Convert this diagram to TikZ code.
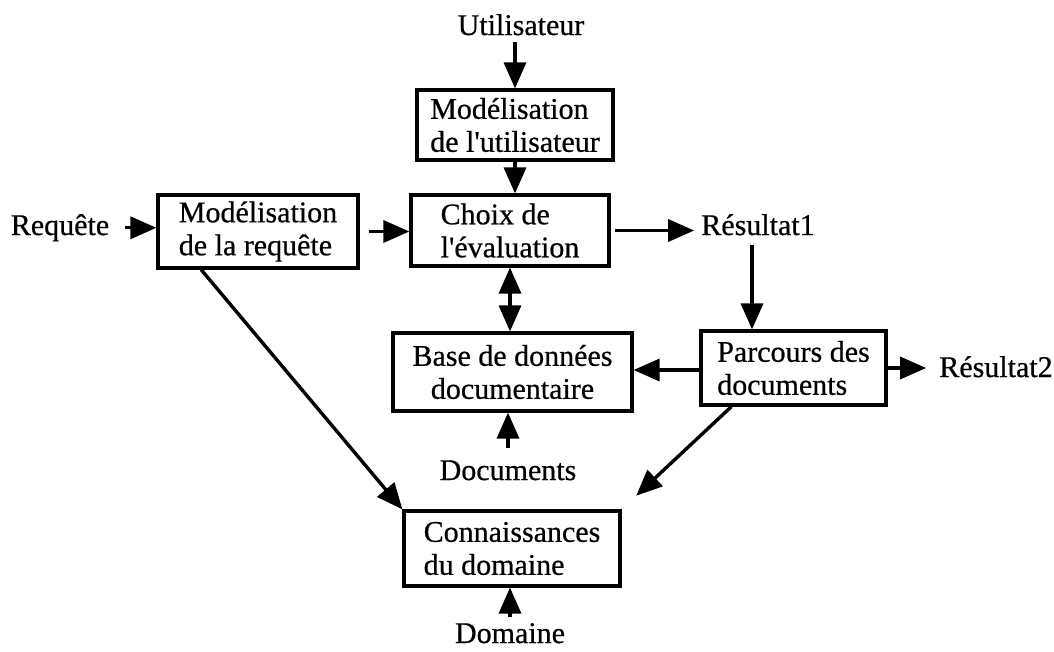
\documentclass[tikz,border=0pt]{standalone}
\usepackage{fontspec}
\setmainfont{Liberation Serif}[Ligatures=TeXOff, FakeBold=0.6]
\usetikzlibrary{arrows.meta,calc}

\begin{document}
\begin{tikzpicture}[x=1pt,y=-1pt,
  txt/.style={font=\fontsize{30}{33}\selectfont},
  box/.style={txt, draw, line width=3.2pt, inner sep=0pt, align=left},
  lbl/.style={txt, inner sep=0pt, anchor=base},
  tip/.tip={Triangle[length=26pt,width=22pt]},
  arr/.style={line width=3.4pt, -tip},
  darr/.style={line width=3.4pt, tip-tip},
]
\useasboundingbox (0,0) rectangle (1054,651);

% processing boxes
\node[box, minimum width=196pt, minimum height=70pt] (mu) at (515,125)
  {Modélisation\\de l'utilisateur};
\node[box, minimum width=198pt, minimum height=71pt] (ch) at (510,230.5)
  {Choix de\\l'évaluation};
\node[box, minimum width=200pt, minimum height=73pt] (mr) at (258,231.5)
  {Modélisation\\de la requête};
\node[box, align=center, minimum width=239pt, minimum height=78pt] (db) at (512.5,372)
  {Base de données\\documentaire};
\node[box, minimum width=185pt, minimum height=74pt] (pa) at (793.5,368)
  {Parcours des\\documents};
\node[box, minimum width=216pt, minimum height=75pt] (kn) at (512,548.5)
  {Connaissances\\du domaine};

% inputs and outputs
\node[lbl] (us) at (521,35) {Utilisateur};
\node[lbl] (rq) at (60,235) {Requête};
\node[lbl] (r1) at (758,235) {Résultat1};
\node[lbl] (r2) at (996,377) {Résultat2};
\node[lbl] (dc) at (508,480) {Documents};
\node[lbl] (dm) at (510,643) {Domaine};

% flows
\draw[arr, shorten <=7pt] (us.south -| mu.north) -- (mu.north);
\draw[arr] (mu.south) -- (mu.south |- ch.north);
\draw[arr, shorten <=16pt] (rq.east) -- (rq.east -| mr.west);
\draw[arr, shorten <=9pt] (mr.east) -- (mr.east -| ch.west);
\draw[arr, shorten <=4pt, shorten >=7pt] (ch.east) -- (ch.east -| r1.west);
\draw[darr] (ch.south) -- (ch.south |- db.north);
\draw[arr, shorten <=10pt] ([xshift=-6pt]r1.south) -- ([xshift=-6pt]r1.south |- pa.north);
\draw[arr] ([yshift=-2pt]pa.west) -- ([yshift=-2pt]pa.west -| db.east);
\draw[arr, shorten >=13pt] (pa.east) -- (pa.east -| r2.west);
\draw[arr, shorten <=12pt] (dc.north) -- (dc.north |- db.south);
\draw[arr, shorten <=6pt] (dm.north) -- (dm.north |- kn.south);
\draw[arr] ($(mr.south west)!0.22!(mr.south east)$) -- (kn.north west);
\draw[arr, shorten >=20pt] ($(pa.south west)!0.17!(pa.south east)$) -- (kn.north east);
\end{tikzpicture}
\end{document}
